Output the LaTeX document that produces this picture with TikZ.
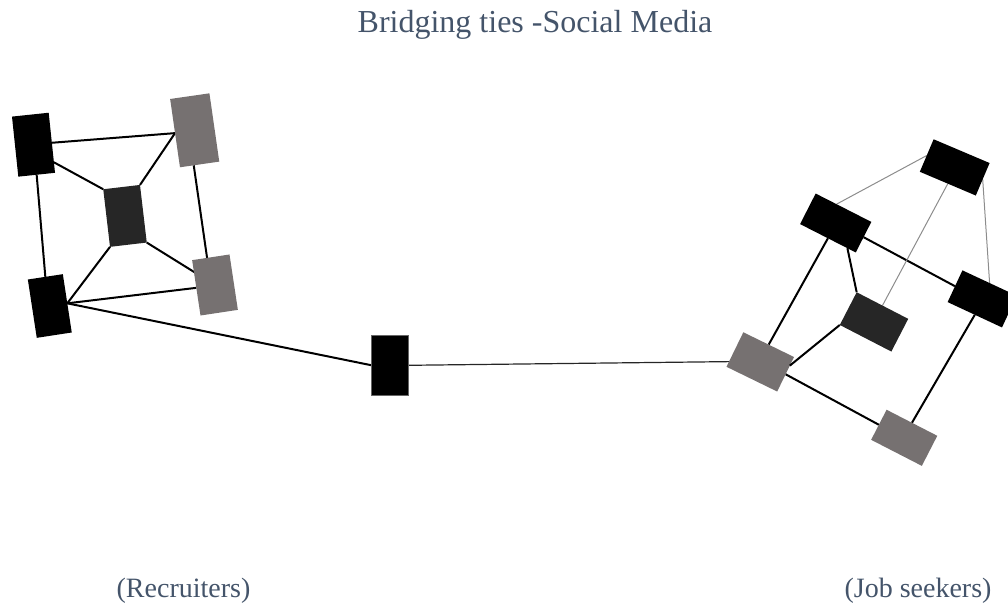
\documentclass[tikz,border=0pt]{standalone}
\usepackage{fontspec}
\setmainfont{Liberation Serif}
\usetikzlibrary{calc,backgrounds}
\definecolor{slate}{HTML}{44546A}
\definecolor{boxgray}{HTML}{767171}
\definecolor{boxdark}{HTML}{262626}
\definecolor{tiegray}{HTML}{8C8C8C}
\begin{document}
\begin{tikzpicture}[x=1pt,y=-1pt,
  box/.style={inner sep=0pt,outer sep=0pt,draw=none},
  tie/.style={line width=2pt,black},
  weaktie/.style={line width=1pt,tiegray},
  bridgetie/.style={line width=1.2pt,black!85},
  caption/.style={text=slate,inner sep=0pt,anchor=base}]
\useasboundingbox (0,0) rectangle (1008,607);
\clip (0,0) rectangle (1008,607);

% title and group captions
\node[caption,font=\fontsize{32}{38}\selectfont] (title) at (535,32.3) {Bridging ties -Social Media};
\node[caption,font=\fontsize{28}{34}\selectfont] (recruiters) at (183.5,597) {(Recruiters)};
\node[caption,font=\fontsize{28}{34}\selectfont] (seekers) at (918,597) {(Job seekers)};

% recruiters cluster
\node[box,fill=black,minimum width=36.9pt,minimum height=60.4pt,rotate=6] (A) at (33.5,144.7) {};
\node[box,fill=boxgray,minimum width=39.7pt,minimum height=69pt,rotate=8.2] (B) at (194.7,130.3) {};
\node[box,fill=boxdark,minimum width=37pt,minimum height=58pt,rotate=6.7] (C) at (125,215.9) {};
\node[box,fill=black,minimum width=35.4pt,minimum height=59pt,rotate=8.7] (D) at (49.8,306) {};
\node[box,fill=boxgray,minimum width=37.8pt,minimum height=56pt,rotate=8.6] (E) at (215,285) {};

% bridging node
\node[box,fill=black,draw=black!60,line width=0.4pt,minimum width=36.7pt,minimum height=60.7pt] (M) at (390,365.3) {};

% job seekers cluster
\node[box,fill=black,minimum width=60.8pt,minimum height=35.3pt,rotate=-23] (P) at (954.7,167.4) {};
\node[box,fill=black,minimum width=62.5pt,minimum height=34.3pt,rotate=-27] (Q) at (835.7,223) {};
\node[box,fill=black,minimum width=60pt,minimum height=35pt,rotate=-25] (R) at (982.2,298.9) {};
\node[box,fill=boxdark,minimum width=58pt,minimum height=36.8pt,rotate=-27.3] (S) at (874,321.9) {};
\node[box,fill=boxgray,minimum width=56.4pt,minimum height=38.4pt,rotate=-26] (T) at (760.25,361.9) {};
\node[box,fill=boxgray,minimum width=57pt,minimum height=33.8pt,rotate=-27.2] (U) at (904.2,437.8) {};

\begin{pgfonlayer}{background}
  % ties among recruiters
  \draw[tie] (A.east) -- (B.west);
  \draw[tie] (A.south) -- (D.north);
  \draw[tie] ($(A.east)!0.65!(A.south east)$) -- (C.north west);
  \draw[tie] (C.north east) -- (B.west);
  \draw[tie] ($(B.south)!0.3!(B.south west)$) -- ($(E.north)!0.2!(E.north west)$);
  \draw[tie] (C.south west) -- (D.east);
  \draw[tie] (C.south east) -- (E.center);
  \draw[tie] (D.east) -- (E.west);
  % bridge between the two groups
  \draw[tie] (D.east) -- (M.west);
  \draw[bridgetie] (M.east) -- ($(T.west)!0.7!(T.south west)$);
  % ties among job seekers
  \draw[tie] (Q.east) -- (R.west);
  \draw[tie] (Q.south) -- (T.north);
  \draw[tie] ($(Q.south)!0.7!(Q.south east)$) -- (S.north west);
  \draw[tie] (T.east) -- (U.west);
  \draw[tie] (U.north) -- (R.south);
  \draw[weaktie] (P.west) -- ($(Q.north)!0.25!(Q.north west)$);
  \draw[weaktie] (P.south) -- (S.north);
  \draw[weaktie] (P.east) -- (R.north);
\end{pgfonlayer}
\draw[tie] (S.south west) -- ($(T.east)!0.5!(T.north east)$);
\end{tikzpicture}
\end{document}
